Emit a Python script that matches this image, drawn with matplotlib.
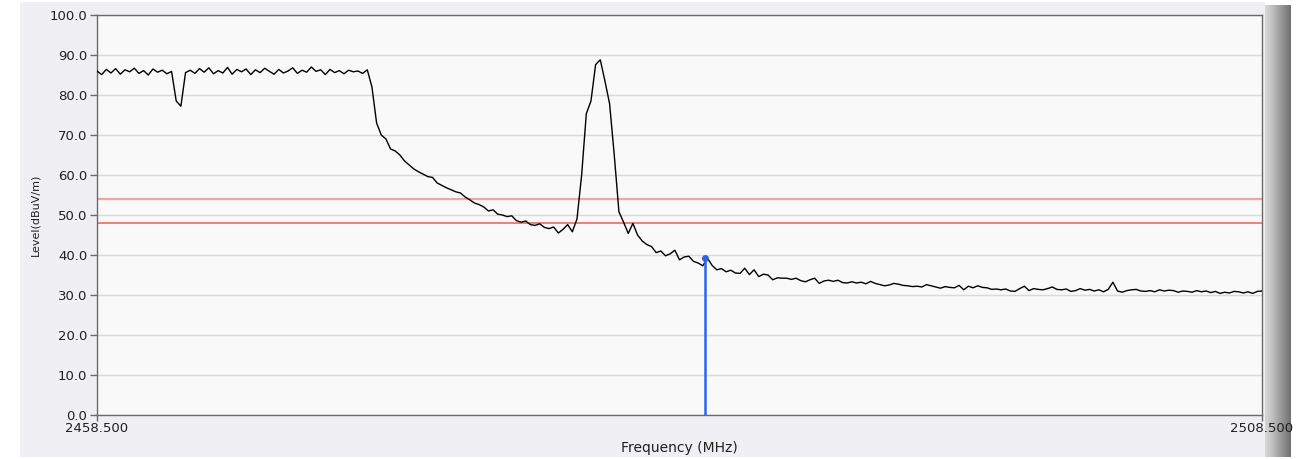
import numpy as np
import matplotlib
matplotlib.use("Agg")
import matplotlib.pyplot as plt
from matplotlib.patches import Rectangle

# sweep settings
f_start = 2458.5
f_stop = 2508.5

# measured level per sweep point (dBuV/m), 0.2 MHz steps
levels = [
    86.0, 85.1, 86.4, 85.5, 86.6, 85.2, 86.3, 85.8, 86.7, 85.4, 86.1, 85.0, 86.5, 85.7, 86.2, 85.3, 85.9,
    78.5, 77.2,
    85.6, 86.2, 85.4, 86.6, 85.7, 86.8, 85.3, 86.1, 85.5, 86.9,
    85.2, 86.4, 85.8, 86.5, 85.1, 86.3, 85.6, 86.7, 85.9, 85.2,
    86.4, 85.5, 86.0, 86.8, 85.4, 86.2, 85.7, 87.0, 85.9, 86.3,
    85.1, 86.4, 85.6, 86.1, 85.3, 86.2, 85.8, 86.0, 85.4, 86.3,
    82.0, 73.0, 70.0, 69.0, 66.5, 66.0, 65.0, 63.5, 62.5, 61.5,
    60.8, 60.2, 59.6, 59.4, 58.0, 57.4, 56.8, 56.3, 55.8, 55.5,
    54.5, 53.8, 53.0, 52.6, 52.0, 51.0, 51.3, 50.2, 50.0, 49.6,
    49.8, 48.6, 48.2, 48.5, 47.6, 47.4, 47.8, 46.9, 46.6, 47.0,
    45.5, 46.4, 47.6, 45.8, 49.0, 60.0, 75.3, 78.5, 87.6, 88.8,
    83.5, 77.8, 65.0, 50.8, 48.2, 45.4, 47.9, 45.0, 43.5, 42.6, 42.1,
    40.6, 41.0, 39.8, 40.3, 41.2, 38.8, 39.5, 39.7, 38.4, 38.0,
    37.3, 39.2, 37.4, 36.3, 36.6, 35.8, 36.2, 35.5, 35.4, 36.7,
    35.1, 36.3, 34.6, 35.2, 35.0, 33.8, 34.3, 34.2, 34.2, 33.9,
    34.2, 33.6, 33.3, 33.8, 34.2, 32.9, 33.5, 33.7, 33.4, 33.7, 33.1,
    33.0, 33.3, 33.0, 33.2, 32.8, 33.4, 32.9, 32.6, 32.3, 32.5,
    32.9, 32.7, 32.4, 32.3, 32.1, 32.2, 32.0, 32.6, 32.3, 32.0,
    31.7, 32.1, 31.9, 31.8, 32.4, 31.3, 32.2, 31.8, 32.3, 31.9,
    31.8, 31.4, 31.5, 31.3, 31.5, 31.0, 30.9, 31.6, 32.2, 31.1,
    31.6, 31.4, 31.3, 31.6, 32.0, 31.4, 31.3, 31.5, 30.9, 31.1,
    31.6, 31.2, 31.4, 31.0, 31.3, 30.8, 31.4, 33.2, 31.0, 30.7,
    31.1, 31.3, 31.4, 31.0, 30.9, 31.1, 30.8, 31.3, 31.0, 31.2,
    31.1, 30.7, 31.0, 30.9, 30.7, 31.1, 30.8, 31.0, 30.6, 30.9,
    30.4, 30.7, 30.5, 30.9, 30.8, 30.5, 30.8, 30.4, 30.9, 31.0,
]

# limit lines
limit_upper = 54.0
limit_lower = 48.0

# marker
marker_freq = 2484.6
marker_level = 39.2

y_ticks = [0, 10, 20, 30, 40, 50, 60, 70, 80, 90, 100]
x_ticks = [f_start, f_stop]

freq = np.linspace(f_start, f_stop, len(levels))

W, H = 1304, 459
fig = plt.figure(figsize=(W / 100, H / 100), dpi=100, facecolor="white")

# window panel and scroll-bar strip on the right
fig.patches.append(Rectangle((20 / W, 2 / H), (1265 - 20) / W, (457 - 2) / H,
                             transform=fig.transFigure, facecolor="#f0eff4",
                             edgecolor="none", zorder=0))
bar = fig.add_axes([1265 / W, 2 / H, 26 / W, (454 - 2) / H], zorder=-1)
grad = np.linspace(0, 1, 64)[None, :]
bar.imshow(grad, aspect="auto", cmap="Greys", vmin=-0.7, vmax=2.0)
bar.axis("off")

ax = fig.add_axes([97 / W, 1 - 415 / H, (1262 - 97) / W, (415 - 15) / H], zorder=1)
ax.set_facecolor("#f9f9f9")

ax.plot(freq, levels, color="black", lw=1.0, zorder=3)
ax.axhline(limit_upper, color="#f5a3a3", lw=1.6, zorder=2)
ax.axhline(limit_lower, color="#ee5c5c", lw=1.1, zorder=2)
ax.vlines(marker_freq, 0, marker_level, color="#2a66ec", lw=1.8, zorder=4)
ax.plot([marker_freq], [marker_level], "o", ms=4, color="#2a66ec", zorder=4)

ax.set_xlim(f_start, f_stop)
ax.set_ylim(0, 100)
ax.set_yticks(y_ticks)
ax.set_yticklabels([f"{v:.1f}" for v in y_ticks])
ax.set_xticks(x_ticks)
ax.set_xticklabels([f"{v:.3f}" for v in x_ticks])
ax.yaxis.grid(True, color="#d9d9d9", lw=1.0)
ax.set_axisbelow(True)

for s in ax.spines.values():
    s.set_color("#6a6a6a")
    s.set_linewidth(1.0)

ax.tick_params(axis="y", length=5, width=1, color="#6a6a6a", pad=2,
               labelsize=9.5, labelcolor="#202020")
ax.tick_params(axis="x", length=4, width=1, color="#6a6a6a", pad=1,
               labelsize=9.5, labelcolor="#202020")

ax.set_xlabel("Frequency (MHz)", fontsize=10, color="#202020")
ax.xaxis.set_label_coords(0.5, -0.065)
ax.set_ylabel("Level(dBuV/m)", fontsize=8, color="#202020")
ax.yaxis.set_label_coords(-0.049, 0.5)

fig.savefig("out.png", dpi=100, facecolor=fig.get_facecolor())
